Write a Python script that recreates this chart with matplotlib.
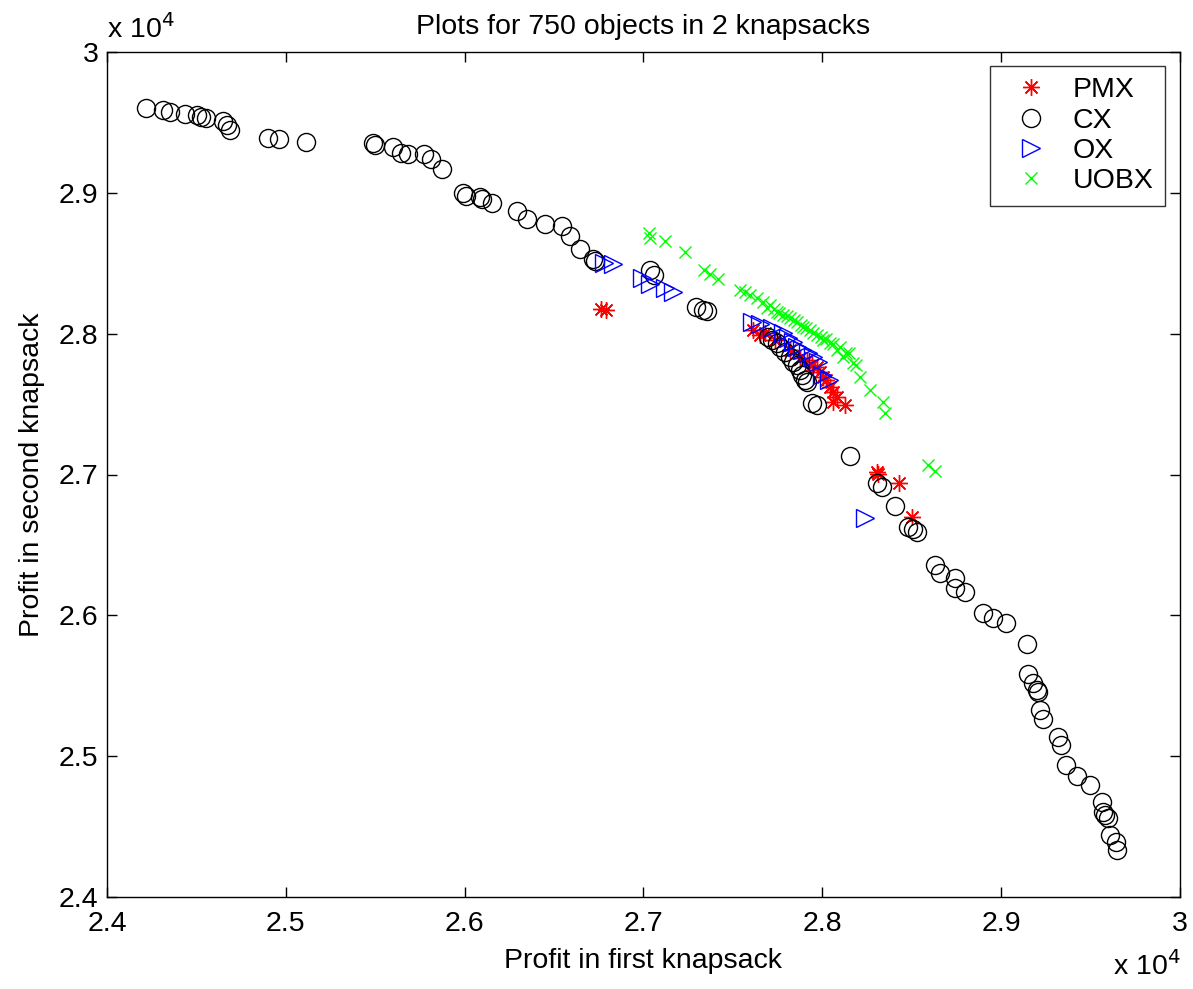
import numpy as np
import matplotlib
matplotlib.use("Agg")
import matplotlib.pyplot as plt
from matplotlib.ticker import FuncFormatter

plt.rcParams['font.family'] = ['Liberation Sans', 'DejaVu Sans']
FS = 20.5

# ---- data (profits) ----
pmx_x = [26762, 26790, 27612, 27652, 27680, 27735, 27819, 27875, 27914, 27942,
         27970, 27987, 28004, 28021, 28043, 28060, 28082, 28060, 28127,
         28306, 28311, 28429, 28502]
pmx_y = [28175, 28168, 28026, 27990, 28005, 27955, 27884, 27827, 27813, 27777,
         27763, 27728, 27692, 27671, 27621, 27586, 27550, 27515, 27493,
         27018, 27003, 26939, 26698]

cx_x = [24218, 24313, 24352, 24436, 24503, 24526, 24554, 24649, 24671, 24688,
        24900, 24962, 25113, 25487, 25499, 25599, 25644, 25683, 25773, 25812,
        25873, 25991, 26008, 26086, 26097, 26153, 26293, 26349, 26449, 26544,
        26589, 26645, 26718, 26729, 27036, 27059, 27294, 27333, 27355,
        27696, 27719, 27747, 27763, 27791, 27819, 27836, 27858, 27875, 27886,
        27903, 27914, 27942, 27970,
        28155, 28306, 28334, 28406, 28479, 28507, 28530,
        28630, 28658, 28742, 28742, 28798, 28899, 28955, 29027, 29145, 29150,
        29178, 29201, 29206, 29217, 29234, 29318, 29335, 29363, 29424, 29497,
        29564, 29570, 29581, 29598, 29609, 29642, 29648]
cx_y = [29602, 29588, 29574, 29560, 29553, 29538, 29531, 29510, 29482, 29446,
        29389, 29382, 29361, 29354, 29340, 29325, 29283, 29276, 29276, 29240,
        29169, 28999, 28977, 28970, 28956, 28928, 28871, 28814, 28779, 28764,
        28693, 28601, 28530, 28516, 28452, 28416, 28189, 28168, 28161,
        27976, 27955, 27934, 27905, 27870, 27834, 27799, 27777, 27742, 27706,
        27671, 27657, 27508, 27493,
        27131, 26939, 26911, 26776, 26627, 26613, 26592,
        26357, 26300, 26265, 26194, 26165, 26016, 25981, 25945, 25796, 25583,
        25519, 25470, 25455, 25328, 25264, 25136, 25079, 24937, 24859, 24795,
        24674, 24603, 24582, 24561, 24440, 24390, 24334]

ox_x = [26779, 26830, 26992, 27036, 27120, 27165, 27607, 27650, 27719, 27780,
        27808, 27836, 27858, 27886, 27920, 27948, 27976, 27998, 28037, 28239]
ox_y = [28502, 28495, 28395, 28353, 28324, 28296, 28083, 28070, 28040, 28005,
        27969, 27941, 27905, 27884, 27863, 27834, 27799, 27706, 27671, 26691]

uobx_x = [27031, 27036, 27120, 27232, 27338, 27372, 27417, 27540, 27568, 27596,
          27635, 27668, 27707, 27747, 27780, 27819, 27858, 27892, 27931, 27970,
          28004, 28043, 28082, 28116, 28172, 28211, 28267, 28339, 28351,
          27730, 27800, 27880, 27950, 28020, 28100, 28150,
          27690, 27760, 27840, 27910, 27990, 28060, 28130, 28190,
          28591, 28630]
uobx_y = [28715, 28679, 28658, 28580, 28452, 28424, 28388, 28310, 28296, 28274,
          28253, 28225, 28203, 28154, 28132, 28111, 28083, 28047, 28026, 27990,
          27955, 27934, 27884, 27834, 27792, 27692, 27600, 27515, 27437,
          28175, 28125, 28060, 28005, 27965, 27905, 27860,
          28185, 28150, 28095, 28040, 27975, 27925, 27865, 27780,
          27067, 27025]

W, H = 1193, 989
fig = plt.figure(figsize=(W / 100, H / 100), dpi=100)
ax = fig.add_axes([107 / W, 1 - 897 / H, 1073 / W, 845 / H])

ax.plot(pmx_x, pmx_y, linestyle='none', marker=(8, 2, 0), color='red', ms=12,
        markeredgewidth=1.0, label='PMX')
ax.plot(cx_x, cx_y, linestyle='none', marker='o', mfc='none', mec='black',
        ms=13, markeredgewidth=1.0, label='CX')
ax.plot(ox_x, ox_y, linestyle='none', marker='>', mfc='none', mec='blue',
        ms=12.5, markeredgewidth=1.0, label='OX')
ax.plot(uobx_x, uobx_y, linestyle='none', marker='x', color=(0, 1, 0), ms=9,
        markeredgewidth=1.0, label='UOBX')

ax.set_xlim(24000, 30000)
ax.set_ylim(24000, 30000)
ticks = np.arange(24000, 30001, 1000)
ax.set_xticks(ticks)
ax.set_yticks(ticks)
fmt = FuncFormatter(lambda v, p: f"{v / 1e4:g}")
ax.xaxis.set_major_formatter(fmt)
ax.yaxis.set_major_formatter(fmt)
ax.tick_params(direction='in', length=7, width=1, top=True, right=True,
               labelsize=FS)
ax.tick_params(axis='x', pad=10)
ax.tick_params(axis='y', pad=6)
for s in ax.spines.values():
    s.set_linewidth(1.0)

ax.set_title('Plots for 750 objects in 2 knapsacks', fontsize=FS, pad=13)
ax.set_xlabel('Profit in first knapsack', fontsize=FS, labelpad=8)
ax.set_ylabel('Profit in second knapsack', fontsize=FS, labelpad=10)

fig.text(107 / W, 1 - 38 / H, r'x 10$^4$', fontsize=FS, va='baseline', ha='left')
fig.text(1113 / W, 1 - 975 / H, r'x 10$^4$', fontsize=FS, va='baseline', ha='left')

leg = ax.legend(loc='upper right', bbox_to_anchor=(1165 / W, 1 - 66 / H),
                bbox_transform=fig.transFigure, fontsize=FS, frameon=True,
                fancybox=False, edgecolor='black', borderaxespad=0,
                handletextpad=0.4, labelspacing=0.15, borderpad=0.4,
                handlelength=2.1)
leg.get_frame().set_linewidth(1.0)

fig.savefig('out.png', dpi=100)
